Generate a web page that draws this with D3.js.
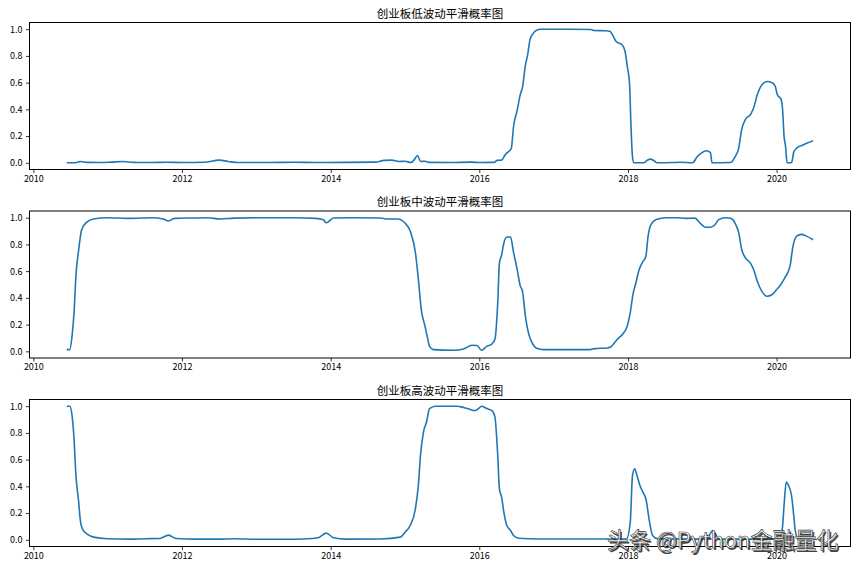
<!DOCTYPE html>
<html>
<head>
<meta charset="utf-8">
<script src="https://cdn.jsdelivr.net/npm/d3@7/dist/d3.min.js"></script>
<style>
  html, body { margin: 0; padding: 0; background: #fff; }
  svg { display: block; }
</style>
</head>
<body>
<svg id="chart" width="856" height="568"></svg>
<script>
// ---------------- DATA (decimal years, smoothed probabilities) ----------------
const titles = ["创业板低波动平滑概率图", "创业板中波动平滑概率图", "创业板高波动平滑概率图"];
const xTickYears = [2010, 2012, 2014, 2016, 2018, 2020];
const yTickValues = [0.0, 0.2, 0.4, 0.6, 0.8, 1.0];
const watermark = "头条 @Python金融量化";

const lowYears = [2010.45,2010.55,2010.63,2010.72,2010.9,2011.05,2011.2,2011.35,2011.6,2011.8,2012.0,2012.3,2012.5,2012.62,2012.75,2013.2,2013.5,2013.8,2014.2,2014.6,2014.72,2014.82,2014.92,2015.0,2015.08,2015.12,2015.17,2015.21,2015.27,2015.32,2015.6,2015.9,2016.0,2016.2,2016.24,2016.3,2016.35,2016.43,2016.46,2016.51,2016.55,2016.58,2016.62,2016.65,2016.68,2016.72,2016.75,2016.82,2017.2,2017.5,2017.54,2017.7,2017.76,2017.79,2017.84,2017.92,2017.96,2017.99,2018.02,2018.04,2018.06,2018.08,2018.21,2018.26,2018.30,2018.35,2018.39,2018.6,2018.7,2018.87,2018.93,2018.99,2019.06,2019.11,2019.13,2019.38,2019.44,2019.49,2019.53,2019.58,2019.65,2019.69,2019.74,2019.80,2019.87,2019.94,2019.98,2020.01,2020.06,2020.08,2020.10,2020.12,2020.14,2020.20,2020.23,2020.27,2020.34,2020.49];
const lowValues = [0.0,0.0,0.01,0.003,0.002,0.005,0.01,0.003,0.002,0.004,0.002,0.004,0.02,0.01,0.002,0.002,0.004,0.002,0.003,0.005,0.018,0.02,0.01,0.012,0.002,0.02,0.055,0.01,0.012,0.003,0.002,0.005,0.002,0.003,0.018,0.02,0.063,0.108,0.27,0.395,0.51,0.565,0.733,0.81,0.92,0.965,0.985,1.0,1.0,0.998,0.99,0.988,0.983,0.958,0.908,0.883,0.833,0.72,0.595,0.27,0.045,0.0,0.0,0.02,0.028,0.015,0.0,0.002,0.004,0.0,0.045,0.075,0.09,0.075,0.0,0.002,0.045,0.11,0.25,0.325,0.363,0.41,0.51,0.583,0.608,0.6,0.575,0.51,0.475,0.4,0.2,0.125,0.0,0.0,0.08,0.11,0.13,0.165];

const midYears = [2010.45,2010.49,2010.52,2010.55,2010.57,2010.61,2010.65,2010.72,2010.81,2010.99,2011.3,2011.6,2011.75,2011.82,2011.9,2012.1,2012.35,2012.51,2012.7,2013.0,2013.5,2013.8,2013.9,2013.94,2014.04,2014.3,2014.67,2014.76,2014.9,2015.0,2015.07,2015.14,2015.18,2015.22,2015.27,2015.30,2015.33,2015.38,2015.65,2015.79,2015.90,2015.97,2016.03,2016.10,2016.17,2016.21,2016.25,2016.27,2016.30,2016.33,2016.37,2016.42,2016.46,2016.51,2016.55,2016.58,2016.62,2016.66,2016.71,2016.77,2016.86,2017.49,2017.55,2017.72,2017.76,2017.85,2017.94,2017.98,2018.03,2018.07,2018.10,2018.15,2018.19,2018.24,2018.27,2018.31,2018.38,2018.51,2018.65,2018.78,2018.90,2018.97,2019.04,2019.11,2019.17,2019.22,2019.31,2019.38,2019.44,2019.49,2019.53,2019.58,2019.65,2019.69,2019.74,2019.80,2019.87,2019.94,2020.00,2020.05,2020.11,2020.18,2020.22,2020.27,2020.33,2020.40,2020.49];
const midValues = [0.013,0.013,0.11,0.31,0.54,0.76,0.91,0.967,0.99,1.0,0.995,1.0,0.99,0.975,0.995,0.998,1.0,0.99,0.997,1.0,1.0,0.995,0.985,0.962,0.998,1.0,0.998,0.99,0.99,0.96,0.9,0.74,0.54,0.31,0.187,0.11,0.037,0.013,0.008,0.018,0.045,0.043,0.008,0.037,0.055,0.09,0.39,0.66,0.72,0.81,0.855,0.855,0.74,0.61,0.49,0.45,0.26,0.138,0.063,0.023,0.013,0.013,0.02,0.025,0.03,0.087,0.137,0.175,0.29,0.437,0.5,0.612,0.662,0.712,0.862,0.95,0.987,1.0,1.0,0.995,0.997,0.96,0.928,0.928,0.947,0.985,1.0,0.995,0.96,0.887,0.762,0.7,0.658,0.612,0.525,0.45,0.412,0.425,0.462,0.495,0.55,0.637,0.787,0.862,0.875,0.862,0.835];

const highYears = [2010.45,2010.49,2010.52,2010.55,2010.57,2010.61,2010.63,2010.66,2010.73,2010.81,2011.0,2011.3,2011.5,2011.7,2011.82,2011.92,2012.2,2012.5,2012.7,2013.0,2013.5,2013.75,2013.85,2013.94,2014.04,2014.2,2014.67,2014.94,2015.0,2015.07,2015.14,2015.18,2015.21,2015.25,2015.29,2015.33,2015.41,2015.70,2015.79,2015.88,2015.94,2015.99,2016.03,2016.10,2016.17,2016.21,2016.25,2016.27,2016.30,2016.33,2016.37,2016.42,2016.46,2016.53,2016.8,2017.5,2017.98,2018.03,2018.06,2018.09,2018.12,2018.16,2018.20,2018.24,2018.29,2018.33,2018.4,2019.05,2019.1,2019.14,2019.18,2019.22,2020.05,2020.08,2020.10,2020.13,2020.16,2020.20,2020.23,2020.25,2020.29,2020.49];
const highValues = [1.0,1.0,0.933,0.733,0.507,0.282,0.157,0.082,0.04,0.02,0.008,0.005,0.008,0.01,0.035,0.01,0.005,0.005,0.008,0.004,0.004,0.01,0.02,0.05,0.015,0.005,0.006,0.02,0.057,0.107,0.232,0.407,0.64,0.81,0.882,0.982,1.0,1.0,0.99,0.975,0.967,0.982,1.0,0.982,0.967,0.92,0.607,0.382,0.32,0.207,0.107,0.07,0.032,0.012,0.006,0.006,0.006,0.132,0.482,0.532,0.482,0.407,0.357,0.307,0.132,0.032,0.007,0.005,0.04,0.07,0.04,0.005,0.005,0.1,0.257,0.432,0.407,0.332,0.182,0.07,0.005,0.002];

// ---------------- DRAWING ----------------
function yearToDate(y) {
  const yr = Math.floor(y);
  const s = Date.UTC(yr, 0, 1), e = Date.UTC(yr + 1, 0, 1);
  return new Date(s + (y - yr) * (e - s));
}
const seriesList = [
  { years: lowYears, values: lowValues },
  { years: midYears, values: midValues },
  { years: highYears, values: highValues }
];

const svg = d3.select("#chart");
const axLeft = 29.5, axRight = 850.5, axHeight = 147;
const axTops = [22.5, 211, 399.5];
const fontTick = "'Noto Sans CJK SC', 'DejaVu Sans', sans-serif";

// shared x extent with 5% margins like matplotlib
const allYears = lowYears.concat(midYears, highYears);
const yMin = d3.min(allYears), yMax = d3.max(allYears);
const pad = (yMax - yMin) * 0.05;
const x = d3.scaleUtc()
  .domain([yearToDate(yMin - pad), yearToDate(yMax + pad)])
  .range([axLeft, axRight]);
const xTicks = xTickYears.map(yr => new Date(Date.UTC(yr, 0, 1)));

seriesList.forEach((s, i) => {
  const top = axTops[i];
  const y = d3.scaleLinear().domain([-0.05, 1.05]).range([top + axHeight, top]);
  const g = svg.append("g");

  const data = s.years.map((yr, k) => ({ d: yearToDate(yr), v: s.values[k] }));

  // line
  const line = d3.line().x(p => x(p.d)).y(p => y(p.v)).curve(d3.curveMonotoneX);
  g.append("path").datum(data)
    .attr("d", line)
    .attr("fill", "none")
    .attr("stroke", "#1f77b4")
    .attr("stroke-width", 1.6)
    .attr("stroke-linejoin", "round");

  // x axis
  const xAxis = d3.axisBottom(x).tickValues(xTicks).tickFormat(d3.utcFormat("%Y"))
    .tickSizeInner(3.5).tickSizeOuter(0).tickPadding(2.5);
  const gx = g.append("g").attr("transform", `translate(0,${top + axHeight})`).call(xAxis);
  gx.select(".domain").remove();
  gx.selectAll("text").attr("font-family", fontTick).attr("font-size", 9).attr("fill", "#000");
  gx.selectAll("line").attr("stroke", "#000").attr("stroke-width", 0.8);

  // y axis
  const yAxis = d3.axisLeft(y).tickValues(yTickValues).tickFormat(d3.format(".1f"))
    .tickSizeInner(3.5).tickSizeOuter(0).tickPadding(3.5);
  const gy = g.append("g").attr("transform", `translate(${axLeft},0)`).call(yAxis);
  gy.select(".domain").remove();
  gy.selectAll("text").attr("font-family", fontTick).attr("font-size", 9).attr("fill", "#000");
  gy.selectAll("line").attr("stroke", "#000").attr("stroke-width", 0.8);

  // frame
  g.append("rect")
    .attr("x", axLeft).attr("y", top)
    .attr("width", axRight - axLeft).attr("height", axHeight)
    .attr("fill", "none").attr("stroke", "#000").attr("stroke-width", 1);

  // title
  g.append("text")
    .attr("x", (axLeft + axRight) / 2).attr("y", top - 5)
    .attr("text-anchor", "middle")
    .attr("font-family", "'Noto Sans CJK SC', sans-serif")
    .attr("font-size", 11.5)
    .attr("fill", "#000")
    .text(titles[i]);
});

// watermark
const wm = svg.append("g");
wm.append("text")
  .attr("x", 608.5).attr("y", 549.5)
  .attr("font-family", "'Noto Sans CJK SC', sans-serif")
  .attr("font-size", 22)
  .attr("fill", "#222").attr("opacity", 0.85)
  .text(watermark);
wm.append("text")
  .attr("x", 607).attr("y", 548)
  .attr("font-family", "'Noto Sans CJK SC', sans-serif")
  .attr("font-size", 22)
  .attr("fill", "#fff")
  .attr("stroke", "#333").attr("stroke-width", 0.6)
  .text(watermark);
</script>
</body>
</html>
